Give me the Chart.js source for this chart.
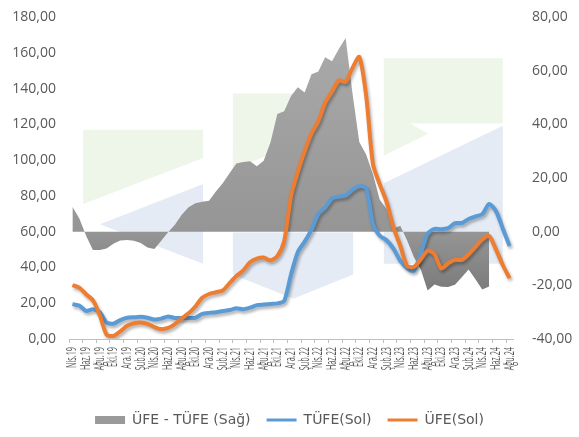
<!DOCTYPE html>
<html lang="tr">
<head>
  <meta charset="UTF-8">
  <title>ÜFE - TÜFE</title>
  <script src="https://cdn.jsdelivr.net/npm/chart.js"></script>
  <style>
    body {
      margin: 0;
      background: #fff;
    }
    #wrap {
      width: 579px;
      height: 437px;
    }
  </style>
</head>
<body>
  <div id="wrap"><canvas id="chart"></canvas></div>

  <script>
    const months = [
      'Nis.19', 'May.19', 'Haz.19', 'Tem.19', 'Ağu.19', 'Eyl.19', 'Eki.19', 'Kas.19', 'Ara.19',
      'Oca.20', 'Şub.20', 'Mar.20', 'Nis.20', 'May.20', 'Haz.20', 'Tem.20', 'Ağu.20', 'Eyl.20', 'Eki.20', 'Kas.20', 'Ara.20',
      'Oca.21', 'Şub.21', 'Mar.21', 'Nis.21', 'May.21', 'Haz.21', 'Tem.21', 'Ağu.21', 'Eyl.21', 'Eki.21', 'Kas.21', 'Ara.21',
      'Oca.22', 'Şub.22', 'Mar.22', 'Nis.22', 'May.22', 'Haz.22', 'Tem.22', 'Ağu.22', 'Eyl.22', 'Eki.22', 'Kas.22', 'Ara.22',
      'Oca.23', 'Şub.23', 'Mar.23', 'Nis.23', 'May.23', 'Haz.23', 'Tem.23', 'Ağu.23', 'Eyl.23', 'Eki.23', 'Kas.23', 'Ara.23',
      'Oca.24', 'Şub.24', 'Mar.24', 'Nis.24', 'May.24', 'Haz.24', 'Tem.24', 'Ağu.24'
    ];

    // TÜFE yıllık % (sol eksen)
    const tufe = [
      19.50, 18.71, 15.72, 16.65, 15.01, 9.26, 8.55, 10.56, 11.84,
      12.15, 12.37, 11.86, 10.94, 11.39, 12.62, 11.76, 11.77, 11.75, 11.89, 14.03, 14.60,
      14.97, 15.61, 16.19, 17.14, 16.59, 17.53, 18.95, 19.25, 19.58, 19.89, 21.31, 36.08,
      48.69, 54.44, 61.14, 69.97, 73.50, 78.62, 79.60, 80.21, 83.45, 85.51, 84.39, 64.27,
      57.68, 55.18, 50.51, 43.68, 39.59, 38.21, 47.83, 58.94, 61.53, 61.36, 61.98, 64.77,
      64.86, 67.07, 68.50, 69.80, 75.45, 71.60, 61.78, 51.97
    ];

    // ÜFE yıllık % (sol eksen)
    const ufe = [
      30.12, 28.71, 25.04, 21.66, 13.45, 2.45, 1.70, 4.26, 7.36,
      8.84, 9.26, 8.50, 6.71, 5.53, 6.17, 8.33, 11.53, 14.33, 18.20, 23.11, 25.15,
      26.16, 27.09, 31.20, 35.17, 38.33, 42.89, 44.92, 45.52, 43.96, 46.31, 54.62, 79.89,
      93.53, 105.01, 114.97, 121.82, 132.16, 138.31, 144.61, 143.75, 151.50, 157.69, 136.02, 97.72,
      86.46, 76.61, 62.43, 52.11, 40.76, 40.42, 44.50, 49.41, 47.44, 39.39, 42.25, 44.22,
      44.20, 47.29, 51.47, 55.66, 57.68, 50.09, 41.37, 34.00
    ];

    // ÜFE - TÜFE farkı (sağ eksen) - grafikte 63 nokta olarak çizilmiş
    const fark = [
      9.32, 5.01, -1.56, -6.81, -6.85, -6.30, -4.48,
      -3.31, -3.11, -3.36, -4.23, -5.86, -6.45, -3.43, -0.24, 2.58, 6.31, 9.08, 10.55,
      11.19, 11.48, 15.01, 18.03, 21.74, 25.36, 25.97, 26.27, 24.38, 26.42, 33.31, 43.81,
      44.84, 50.57, 53.83, 51.85, 58.66, 59.69, 65.01, 63.54, 68.05, 72.18, 51.63, 33.45,
      28.78, 21.43, 11.92, 8.43, 1.17, 2.21, -3.33, -9.53, -14.09, -21.97, -19.73, -20.55,
      -20.66, -19.78, -17.03, -14.14, -17.77, -21.51, -20.41
    ];

    const seriesNames = ['ÜFE - TÜFE (Sağ)', 'TÜFE(Sol)', 'ÜFE(Sol)'];
    const leftTicks = { min: 0, max: 180, step: 20 };
    const rightTicks = { min: -40, max: 80, step: 20 };

    const textColor = '#595959';
    const fontFamily = '"Open Sans", "Noto Sans", sans-serif';
    const legendFont = '"DejaVu Sans", sans-serif';
    const fmt = v => v.toFixed(2).replace('.', ',');

    // arka plandaki soluk logo (grafik alanına göre oran)
    const logoGreen = [
      [[0.032, 0.35], [0.302, 0.35], [0.302, 0.4375], [0.032, 0.581]],
      [[0.369, 0.2375], [0.505, 0.2375], [0.505, 0.40], [0.369, 0.472]],
      [[0.709, 0.128], [0.977, 0.128], [0.977, 0.331], [0.768, 0.331], [0.809, 0.3625], [0.709, 0.431]]
    ];
    const logoBlue = [
      [[0.07, 0.644], [0.302, 0.519], [0.302, 0.766]],
      [[0.369, 0.669], [0.64, 0.669], [0.64, 0.80], [0.505, 0.875], [0.369, 0.80]],
      [[0.709, 0.516], [0.977, 0.3375], [0.977, 0.766], [0.709, 0.766]]
    ];

    const logoPlugin = {
      id: 'logo',
      beforeDatasetsDraw(chart) {
        const { ctx, chartArea: a } = chart;
        const w = a.right - a.left, h = a.bottom - a.top;
        const draw = (shapes, color) => {
          ctx.fillStyle = color;
          shapes.forEach(pts => {
            ctx.beginPath();
            pts.forEach(([fx, fy], i) => {
              const x = a.left + fx * w, y = a.top + fy * h;
              if (i === 0) ctx.moveTo(x, y); else ctx.lineTo(x, y);
            });
            ctx.closePath();
            ctx.fill();
          });
        };
        ctx.save();
        draw(logoGreen, '#eef5e9');
        draw(logoBlue, '#e4ebf5');
        ctx.restore();
      }
    };

    const shadowPlugin = {
      id: 'shadow',
      beforeDatasetDraw(chart, args) {
        const ctx = chart.ctx;
        ctx.save();
        if (args.meta.dataset && !args.meta.dataset.options.fill) {
          ctx.shadowColor = 'rgba(0,0,0,0.3)';
          ctx.shadowBlur = 3;
          ctx.shadowOffsetX = 1.5;
          ctx.shadowOffsetY = 2.5;
        }
      },
      afterDatasetDraw(chart) {
        chart.ctx.restore();
      }
    };

    // x etiketleri: dikey ve sıkıştırılmış
    const xLabelPlugin = {
      id: 'xLabels',
      afterDraw(chart) {
        const sc = chart.scales.x, ctx = chart.ctx;
        ctx.save();
        ctx.font = '14px ' + fontFamily;
        ctx.fillStyle = textColor;
        ctx.textAlign = 'right';
        ctx.textBaseline = 'middle';
        months.forEach((m, i) => {
          if (i % 2) return;
          ctx.save();
          ctx.translate(sc.getPixelForTick(i), sc.top + 8);
          ctx.rotate(-Math.PI / 2);
          ctx.scale(0.52, 1);
          ctx.fillText(m, 0, 0);
          ctx.restore();
        });
        ctx.restore();
      }
    };

    function areaFill(c) {
      const a = c.chart.chartArea;
      if (!a) return '#999999';
      const g = c.chart.ctx.createLinearGradient(0, a.top, 0, a.bottom);
      g.addColorStop(0, '#acacac');
      g.addColorStop(0.67, '#959595');
      g.addColorStop(0.85, '#7b7b7b');
      g.addColorStop(1, '#717171');
      return g;
    }

    const legendColors = ['#9a9a9a', '#5b9bd5', '#ed7d31'];

    // görünmez tik çizgisi etiketleri eksenden uzaklaştırıyor
    const hiddenGrid = len => ({
      display: true,
      drawOnChartArea: false,
      drawTicks: true,
      tickLength: len,
      color: 'rgba(0,0,0,0)'
    });

    new Chart(document.getElementById('chart'), {
      type: 'line',
      data: {
        labels: months,
        datasets: [
          {
            label: seriesNames[0],
            data: fark,
            yAxisID: 'y1',
            fill: 'origin',
            backgroundColor: areaFill,
            borderWidth: 0,
            pointRadius: 0,
            tension: 0,
            order: 3
          },
          {
            label: seriesNames[1],
            data: tufe,
            yAxisID: 'y',
            borderColor: '#5b9bd5',
            borderWidth: 4,
            pointRadius: 0,
            tension: 0.25,
            fill: false,
            order: 2
          },
          {
            label: seriesNames[2],
            data: ufe,
            yAxisID: 'y',
            borderColor: '#ed7d31',
            borderWidth: 4,
            pointRadius: 0,
            tension: 0.25,
            fill: false,
            order: 1
          }
        ]
      },
      options: {
        responsive: true,
        maintainAspectRatio: false,
        animation: false,
        events: [],
        layout: { padding: { top: 17, bottom: 0, left: 0, right: 0 } },
        plugins: {
          tooltip: { enabled: false },
          legend: {
            position: 'bottom',
            labels: {
              color: textColor,
              font: { family: legendFont, size: 14 },
              usePointStyle: true,
              pointStyleWidth: 30,
              boxHeight: 8,
              padding: 16,
              generateLabels: chart => chart.data.datasets.map((ds, i) => ({
                text: ds.label,
                datasetIndex: i,
                pointStyle: i === 0 ? 'rect' : 'line',
                fillStyle: legendColors[i],
                strokeStyle: legendColors[i],
                lineWidth: i === 0 ? 0 : 3,
                fontColor: textColor,
                hidden: false
              }))
            }
          }
        },
        scales: {
          x: {
            offset: true,
            grid: {
              offset: true,
              drawOnChartArea: false,
              drawTicks: true,
              tickLength: 4,
              color: c => (c.index % 2 === 0 ? '#bfbfbf' : 'rgba(0,0,0,0)')
            },
            border: { display: true, color: '#bfbfbf', width: 1 },
            ticks: { display: false, autoSkip: false },
            afterFit: s => { s.height = 58; }
          },
          y: {
            position: 'left',
            min: leftTicks.min,
            max: leftTicks.max,
            grid: hiddenGrid(10),
            border: { display: false },
            ticks: {
              stepSize: leftTicks.step,
              padding: 3,
              color: textColor,
              font: { family: fontFamily, size: 14 },
              callback: v => fmt(v)
            },
            afterFit: s => { s.width = 69; }
          },
          y1: {
            position: 'right',
            min: rightTicks.min,
            max: rightTicks.max,
            grid: hiddenGrid(16),
            border: { display: false },
            ticks: {
              stepSize: rightTicks.step,
              padding: 3,
              color: textColor,
              font: { family: fontFamily, size: 14 },
              callback: v => fmt(v)
            },
            afterFit: s => { s.width = 66; }
          }
        }
      },
      plugins: [logoPlugin, shadowPlugin, xLabelPlugin]
    });
  </script>
</body>
</html>
